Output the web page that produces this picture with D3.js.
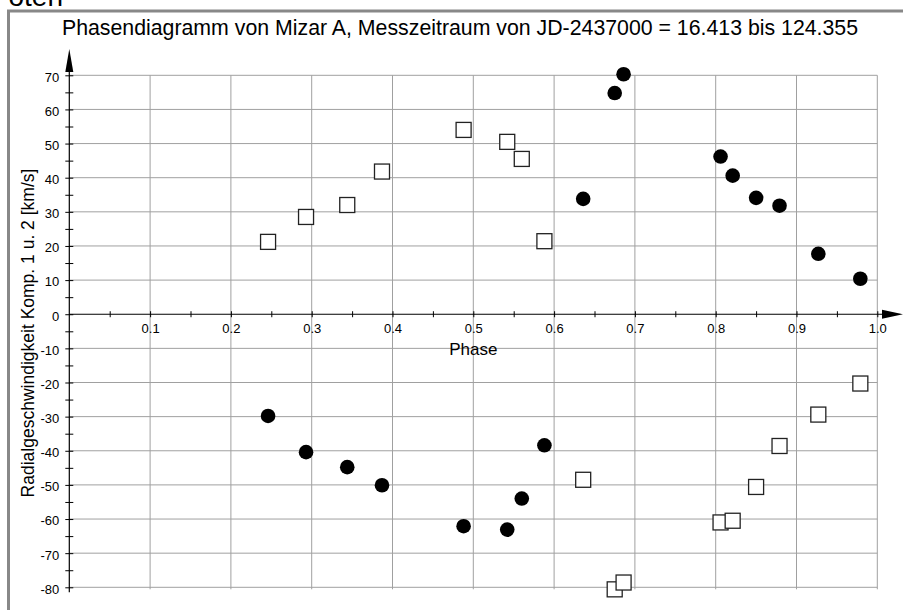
<!DOCTYPE html>
<html>
<head>
<meta charset="utf-8">
<script src="https://cdn.jsdelivr.net/npm/d3@7"></script>
<style>
  body { margin:0; background:#fff; }
  svg { display:block; font-family:"Liberation Sans", Arial, sans-serif; }
</style>
</head>
<body>
<svg id="chart"></svg>
<script>
// Mizar A phase diagram
var phase = [0.246, 0.293, 0.344, 0.387, 0.488, 0.542, 0.560, 0.588, 0.636, 0.675, 0.686, 0.806, 0.821, 0.850, 0.879, 0.927, 0.979];
var comp1 = [-29.8, -40.4, -44.8, -50.1, -62.1, -63.1, -54.0, -38.4, 33.8, 64.8, 70.3, 46.2, 40.6, 34.1, 31.8, 17.7, 10.4];
var comp2 = [21.2, 28.5, 32.0, 41.8, 54.0, 50.5, 45.5, 21.4, -48.5, -80.6, -78.6, -61.0, -60.5, -50.6, -38.6, -29.4, -20.3];
var xTicks = [0.1, 0.2, 0.3, 0.4, 0.5, 0.6, 0.7, 0.8, 0.9, 1.0];
var yTicks = [-80, -70, -60, -50, -40, -30, -20, -10, 0, 10, 20, 30, 40, 50, 60, 70];

var titleText = "Phasendiagramm von Mizar A, Messzeitraum von JD-2437000 = 16.413 bis 124.355";

var screen = {width:903, height:610};

var svg = d3.select("#chart")
    .attr("width", screen.width)
    .attr("height", screen.height);

var xScale = d3.scaleLinear().domain([0, 1]).range([69.3, 877.3]);
var yScale = d3.scaleLinear().domain([-80, 70]).range([587.3, 75.3]);

// cut heading above the frame
svg.append("text")
    .attr("x", 63).attr("y", 6)
    .attr("text-anchor", "end")
    .style("font-size", "28px")
    .text("oten");

// gray frame
svg.append("rect")
    .attr("x", 8.5).attr("y", 11)
    .attr("width", 1000).attr("height", 700)
    .attr("fill", "none")
    .attr("stroke", "#888")
    .attr("stroke-width", 3);

// title
svg.append("text")
    .attr("x", 460).attr("y", 35)
    .attr("text-anchor", "middle")
    .style("font-size", "21.3px")
    .text(titleText);

// grid
var grid = svg.append("g").attr("stroke", "#a0a0a0").attr("stroke-width", 1);
grid.selectAll(".hg")
    .data(yTicks.filter(function(d){ return d != 0; }))
    .enter().append("line")
    .attr("x1", xScale(0)).attr("x2", xScale(1))
    .attr("y1", function(d){ return yScale(d); })
    .attr("y2", function(d){ return yScale(d); });
grid.selectAll(".vg")
    .data(xTicks)
    .enter().append("line")
    .attr("x1", function(d){ return xScale(d); })
    .attr("x2", function(d){ return xScale(d); })
    .attr("y1", yScale(70)).attr("y2", yScale(-80) + 2);

// y axis (labels through d3 axis, ticks crossing the line)
var yAxis = d3.axisLeft(yScale)
    .tickValues(d3.range(-80, 71, 5))
    .tickSize(4)
    .tickFormat(function(d){ return d % 10 == 0 ? d : ""; });

var yg = svg.append("g")
    .attr("transform", "translate(" + xScale(0) + ",0)")
    .call(yAxis);
yg.select(".domain").remove();
yg.selectAll(".tick line").attr("x2", -4).attr("x1", 4).attr("stroke", "#000");
yg.selectAll(".tick text")
    .attr("x", -10)
    .attr("dy", "0.45em")
    .style("font-size", "13px")
    .style("font-family", "Liberation Sans, Arial, sans-serif")
    .attr("fill", "#000");

// x axis
var xAxis = d3.axisBottom(xScale)
    .tickValues(d3.range(1, 21).map(function(i){ return i * 0.05; }))
    .tickSize(3)
    .tickFormat(function(d){ return Math.round(d * 100) % 10 == 0 ? d3.format(".1f")(d) : ""; });

var xg = svg.append("g")
    .attr("transform", "translate(0," + yScale(0) + ")")
    .call(xAxis);
xg.select(".domain").remove();
xg.selectAll(".tick line").attr("y1", -3).attr("stroke", "#000");
xg.selectAll(".tick text")
    .attr("y", 10)
    .attr("dy", "0.71em")
    .style("font-size", "13px")
    .style("font-family", "Liberation Sans, Arial, sans-serif")
    .attr("fill", "#000");

// axis lines with arrows
svg.append("line")
    .attr("x1", xScale(0)).attr("x2", xScale(0))
    .attr("y1", 60).attr("y2", yScale(-80) + 5)
    .attr("stroke", "#000").attr("stroke-width", 1.2);
svg.append("path")
    .attr("d", "M" + xScale(0) + ",49 L" + (xScale(0) - 4) + ",72 L" + (xScale(0) + 4) + ",72 Z")
    .attr("fill", "#000");

svg.append("line")
    .attr("x1", xScale(0)).attr("x2", 890)
    .attr("y1", yScale(0)).attr("y2", yScale(0))
    .attr("stroke", "#000").attr("stroke-width", 1.2);
svg.append("path")
    .attr("d", "M903," + yScale(0) + " L882," + (yScale(0) - 4.5) + " L882," + (yScale(0) + 4.5) + " Z")
    .attr("fill", "#000");

// axis titles
svg.append("text")
    .attr("x", xScale(0.5)).attr("y", 355)
    .attr("text-anchor", "middle")
    .style("font-size", "17px")
    .text("Phase");

svg.append("text")
    .attr("transform", "translate(34,333) rotate(-90)")
    .attr("text-anchor", "middle")
    .style("font-size", "17.5px")
    .text("Radialgeschwindigkeit Komp. 1 u. 2 [km/s]");

// component 1: filled circles
svg.append("g").selectAll("circle")
    .data(phase)
    .enter().append("circle")
    .attr("cx", function(d){ return xScale(d); })
    .attr("cy", function(d, i){ return yScale(comp1[i]); })
    .attr("r", 7.3)
    .attr("fill", "#000");

// component 2: open squares
svg.append("g").selectAll("rect")
    .data(phase)
    .enter().append("rect")
    .attr("x", function(d){ return xScale(d) - 7.5; })
    .attr("y", function(d, i){ return yScale(comp2[i]) - 7.5; })
    .attr("width", 15).attr("height", 15)
    .attr("fill", "#fff")
    .attr("stroke", "#222")
    .attr("stroke-width", 1.3);
</script>
</body>
</html>
